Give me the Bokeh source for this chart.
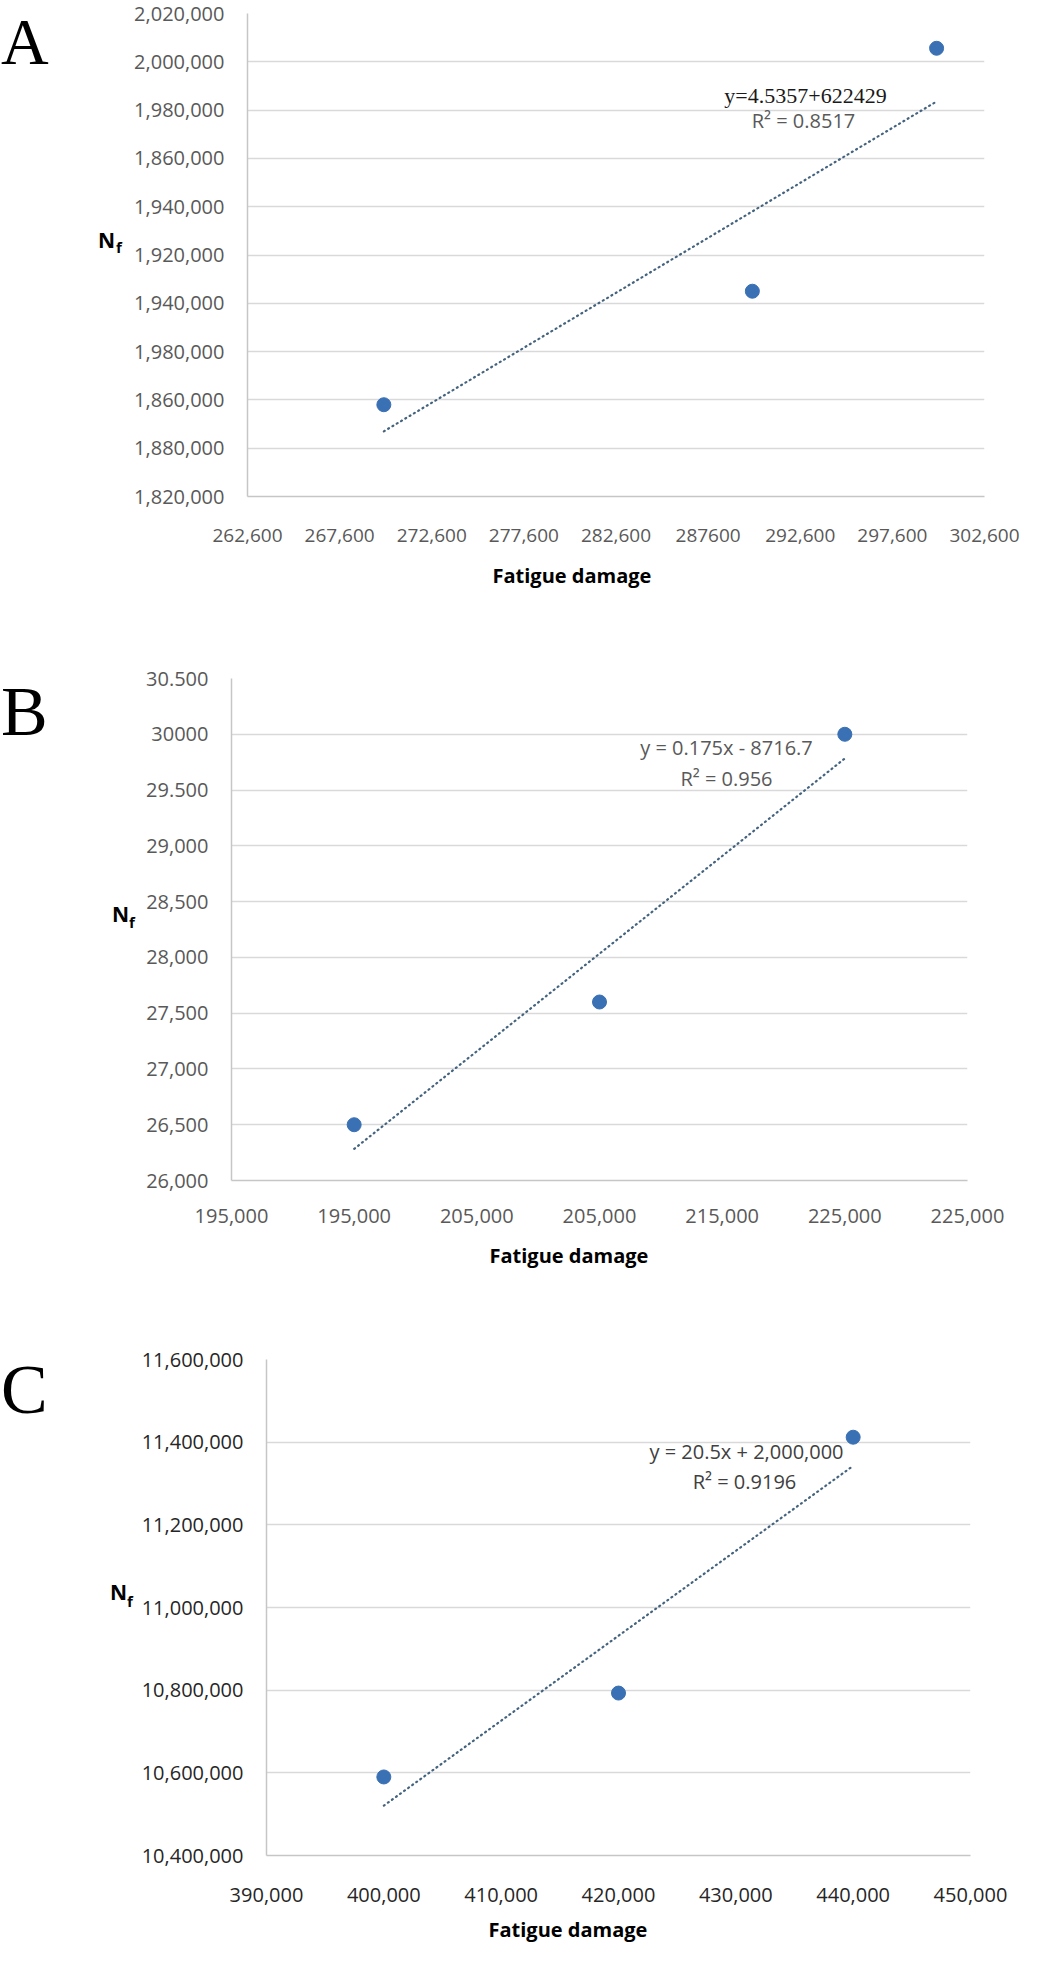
import numpy as np
from bokeh.plotting import figure
from bokeh.models import Range1d, FixedTicker, Label, Title, Div
from bokeh.layouts import column, row
from bokeh.embed import file_html
from bokeh.resources import INLINE

# ---------------- DATA ----------------
# Panel A
a_x = [270000, 290000, 300000]
a_y = [1858000, 1905000, 2005600]
a_xticks = [262600, 267600, 272600, 277600, 282600, 287600, 292600, 297600, 302600]
a_xlabels = ["262,600", "267,600", "272,600", "277,600", "282,600", "287600",
             "292,600", "297,600", "302,600"]
a_yticks = [1820000, 1840000, 1860000, 1880000, 1900000, 1920000, 1940000,
            1960000, 1980000, 2000000, 2020000]
a_ylabels = ["1,820,000", "1,880,000", "1,860,000", "1,980,000", "1,940,000",
             "1,920,000", "1,940,000", "1,860,000", "1,980,000", "2,000,000",
             "2,020,000"]
a_eq = "y=4.5357+622429"
a_r2 = "R\u00b2 = 0.8517"

# Panel B
b_x = [200000, 210000, 220000]
b_y = [26500, 27600, 30000]
b_xticks = [195000, 200000, 205000, 210000, 215000, 220000, 225000]
b_xlabels = ["195,000", "195,000", "205,000", "205,000", "215,000", "225,000", "225,000"]
b_yticks = [26000, 26500, 27000, 27500, 28000, 28500, 29000, 29500, 30000, 30500]
b_ylabels = ["26,000", "26,500", "27,000", "27,500", "28,000", "28,500",
             "29,000", "29.500", "30000", "30.500"]
b_eq = "y = 0.175x - 8716.7"
b_r2 = "R\u00b2 = 0.956"

# Panel C
c_x = [400000, 420000, 440000]
c_y = [10590000, 10793000, 11412000]
c_xticks = [390000, 400000, 410000, 420000, 430000, 440000, 450000]
c_xlabels = ["390,000", "400,000", "410,000", "420,000", "430,000", "440,000", "450,000"]
c_yticks = [10400000, 10600000, 10800000, 11000000, 11200000, 11400000, 11600000]
c_ylabels = ["10,400,000", "10,600,000", "10,800,000", "11,000,000",
             "11,200,000", "11,400,000", "11,600,000"]
c_eq = "y = 20.5x + 2,000,000"
c_r2 = "R\u00b2 = 0.9196"

x_title = "Fatigue damage"

# ---------------- STYLE / LAYOUT ----------------
PAGE_L, PAGE_R = 8, 1032
SANS = "Open Sans"
SERIF = "Liberation Serif"
PT_COLOR = "#3a70b4"
TREND_COLOR = "#44637f"
GRID_COLOR = "#d9d9d9"
AXIS_COLOR = "#c6c6c6"
TITLE_W = 150  # effective width used to centre the left-aligned x title


def span(text, left, baseline, size, family, weight, asc, lh):
    # absolutely positioned text; top computed so that the baseline lands at `baseline`
    top = baseline - asc * size
    return (f'<span style="position:absolute; left:{left:.1f}px; top:{top:.1f}px; '
            f'font-family:\'{family}\'; font-size:{size}px; font-weight:{weight}; '
            f'line-height:{lh}; white-space:nowrap; color:black;">{text}</span>')


def make_panel(letter, xs, ys, xticks, xlabels, yticks, ylabels, eq, r2,
               fig_top, fig_bottom, frame, gutter_w, tick_color, xtick_size,
               xstandoff, tstandoff,
               eq_font, eq_color, eq_pos, r2_pos, letter_pos, letter_size,
               n_pos, f_pos, title_x):
    fl, ft, fr, fb = frame
    x0, x1 = xticks[0], xticks[-1]
    y0, y1 = yticks[0], yticks[-1]
    H = fig_bottom - fig_top
    main_left = PAGE_L + gutter_w

    def dx(px):
        return x0 + (px - fl) / (fr - fl) * (x1 - x0)

    def dy(py):
        return y1 - (py - ft) / (fb - ft) * (y1 - y0)

    # ---- gutter holding the panel letter and the N_f label ----
    html = ('<div style="position:relative; width:%dpx; height:%dpx; overflow:visible;">' % (gutter_w, H)
            + span(letter, letter_pos[0] - PAGE_L, letter_pos[1] - fig_top, letter_size,
                   SERIF, "normal", 0.539, 0.66)
            + span("N", n_pos[0] - PAGE_L, n_pos[1] - fig_top, 21, SANS, "bold", 0.888, 1)
            + span("f", f_pos[0] - PAGE_L, f_pos[1] - fig_top, 15, SANS, "bold", 0.888, 1)
            + '</div>')
    g = Div(text=html, width=gutter_w, height=H, margin=(0, 0, 0, 0),
            styles={"overflow": "visible", "padding": "0px"})

    # ---- main chart ----
    p = figure(output_backend="svg", toolbar_location=None,
               x_range=Range1d(x0, x1), y_range=Range1d(y0, y1),
               frame_width=fr - fl, frame_height=fb - ft,
               min_border_left=fl - main_left, min_border_right=PAGE_R - fr,
               min_border_top=ft - fig_top, min_border_bottom=fig_bottom - fb,
               background_fill_color="white", border_fill_color="white",
               margin=(0, 0, 0, 0))
    p.outline_line_color = None

    for ax, ticks, labels in ((p.xaxis[0], xticks, xlabels), (p.yaxis[0], yticks, ylabels)):
        ax.ticker = FixedTicker(ticks=ticks)
        ax.major_label_overrides = {t: l for t, l in zip(ticks, labels)}
        ax.major_tick_line_color = None
        ax.minor_tick_line_color = None
        ax.major_tick_out = 0
        ax.major_tick_in = 0
        ax.axis_line_color = AXIS_COLOR
        ax.axis_line_width = 1.5
        ax.major_label_text_font = SANS
        ax.major_label_text_font_size = "20px"
        ax.major_label_text_color = tick_color
    p.xaxis.major_label_text_font_size = xtick_size
    p.xaxis.major_label_standoff = xstandoff
    p.yaxis.major_label_standoff = 23

    p.xgrid.grid_line_color = None
    p.ygrid.ticker = FixedTicker(ticks=yticks)
    p.ygrid.grid_line_color = GRID_COLOR
    p.ygrid.grid_line_width = 1.5

    # trend line (least squares)
    slope, intercept = np.polyfit(xs, ys, 1)
    tx = np.array([min(xs), max(xs)], dtype=float)
    p.line(tx, slope * tx + intercept, line_color=TREND_COLOR, line_width=2.2,
           line_dash="1 4", line_cap="round")

    p.scatter(xs, ys, size=14, fill_color=PT_COLOR, line_color=PT_COLOR)

    # equation texts (inside the frame)
    p.add_layout(Label(x=dx(eq_pos[0]), y=dy(eq_pos[1]), text=eq,
                       text_font=eq_font, text_font_size="22px" if eq_font == SERIF else "20px",
                       text_color=eq_color, text_align="center", text_baseline="middle"))
    p.add_layout(Label(x=dx(r2_pos[0]), y=dy(r2_pos[1]), text=r2,
                       text_font=SANS, text_font_size="20px",
                       text_color=eq_color if eq_font == SANS else "#595959",
                       text_align="center", text_baseline="middle"))

    # x title, left-aligned with an offset so its centre sits where the reference has it
    p.add_layout(Title(text=x_title, align="left", offset=title_x - TITLE_W / 2 - fl,
                       text_font=SANS, text_font_size="20px", text_font_style="bold",
                       text_color="black", standoff=tstandoff), "below")

    return row(g, p, spacing=0)


pa = make_panel("A", a_x, a_y, a_xticks, a_xlabels, a_yticks, a_ylabels, a_eq, a_r2,
                fig_top=8, fig_bottom=640, frame=(255, 21, 992, 504), gutter_w=128,
                tick_color="#595959", xtick_size="19px", xstandoff=32, tstandoff=30,
                eq_font=SERIF, eq_color="#1a1a1a",
                eq_pos=(813, 103), r2_pos=(811, 128), letter_pos=(9, 64), letter_size=66,
                n_pos=(106, 257), f_pos=(124, 261), title_x=575)

pb = make_panel("B", b_x, b_y, b_xticks, b_xlabels, b_yticks, b_ylabels, b_eq, b_r2,
                fig_top=640, fig_bottom=1340, frame=(239, 686, 975, 1188), gutter_w=138,
                tick_color="#595959", xtick_size="20px", xstandoff=28, tstandoff=28,
                eq_font=SANS, eq_color="#595959",
                eq_pos=(734, 755), r2_pos=(734, 786), letter_pos=(9, 735), letter_size=70,
                n_pos=(120, 931), f_pos=(137, 936), title_x=572)

pc = make_panel("C", c_x, c_y, c_xticks, c_xlabels, c_yticks, c_ylabels, c_eq, c_r2,
                fig_top=1340, fig_bottom=1958, frame=(274, 1367, 978, 1863), gutter_w=134,
                tick_color="#262626", xtick_size="20px", xstandoff=32, tstandoff=18,
                eq_font=SANS, eq_color="#404040",
                eq_pos=(754, 1459), r2_pos=(752, 1489), letter_pos=(9, 1413), letter_size=70,
                n_pos=(118, 1609), f_pos=(135, 1615), title_x=571)

layout = column(pa, pb, pc, spacing=0)
open("out.html", "w").write(file_html(layout, INLINE))
